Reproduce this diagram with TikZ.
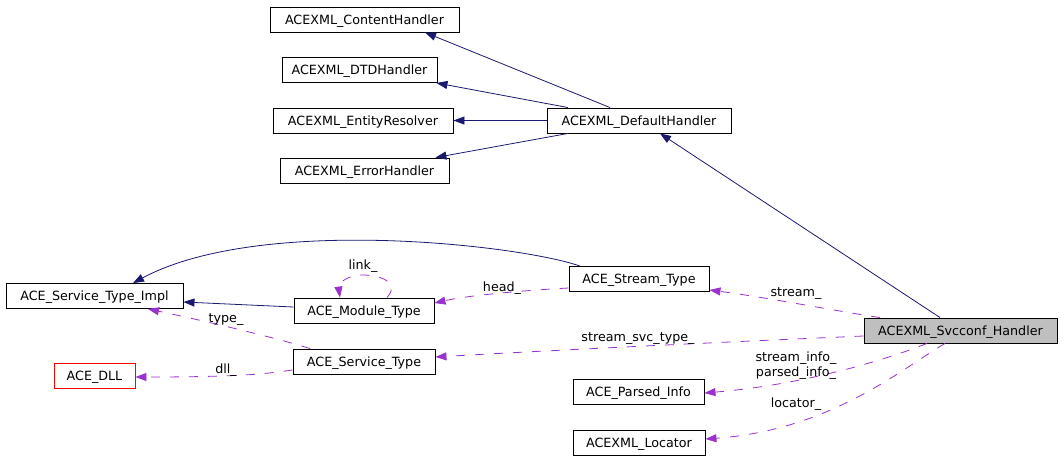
\documentclass[tikz,border=0pt]{standalone}
\usepackage{fontspec}
\setmainfont{DejaVu Sans}
\usepackage{xcolor}
\definecolor{navy}{RGB}{25,25,112}
\definecolor{orchid}{RGB}{154,50,205}
\definecolor{shade}{RGB}{191,191,191}
\usepackage{tikz}
\usetikzlibrary{positioning}
\usetikzlibrary{arrows.meta}
\tikzset{>={Triangle[length=11pt,width=8pt]}}
\tikzset{
  klass/.style    ={ font=\fontsize{12.7pt}{15pt}\selectfont, rectangle, draw=black, fill=white, line width=0.9pt,
                     inner sep=0pt, text height=9.3pt, text depth=0pt, minimum height=25pt },
  current/.style  ={ klass, fill=shade },
  missing/.style  ={ klass, draw=red },
  tag/.style      ={ font=\fontsize{12.7pt}{15pt}\selectfont, inner sep=0pt, anchor=base },
  inherit/.style  ={->, draw=navy, line width=0.8pt},
  member/.style   ={->, draw=orchid, line width=0.8pt, dash pattern=on 9pt off 10pt}
}

\begin{document}
\begin{tikzpicture}[x=1pt,y=-1pt]
\useasboundingbox (0,0) rectangle (1064,461);

\node[klass,  minimum width=189pt] (CH)  at (364.5, 19.5) {ACEXML\_ContentHandler};
\node[klass,  minimum width=155pt] (DTD) at (359.5, 70)   {ACEXML\_DTDHandler};
\node[klass,  minimum width=180pt] (ER)  at (363, 120.5)  {ACEXML\_EntityResolver};
\node[klass,  minimum width=169pt] (EH)  at (364.5, 170.5){ACEXML\_ErrorHandler};
\node[klass,  minimum width=184pt] (DH)  at (639, 120.5)  {ACEXML\_DefaultHandler};
\node[klass,  minimum width=177pt] (STI) at (94.5, 296)   {ACE\_Service\_Type\_Impl};
\node[klass,  minimum width=140pt] (MT)  at (364, 310.5)  {ACE\_Module\_Type};
\node[klass,  minimum width=142pt] (SvT) at (364, 361.5)  {ACE\_Service\_Type};
\node[missing,minimum width=81pt]  (DLL) at (94.5, 376)   {ACE\_DLL};
\node[klass,  minimum width=140pt] (ST)  at (639, 279)    {ACE\_Stream\_Type};
\node[current,minimum width=193pt] (SC)  at (960.5, 330.5){ACEXML\_Svcconf\_Handler};
\node[klass,  minimum width=131pt] (PI)  at (638.5, 392)  {ACE\_Parsed\_Info};
\node[klass,  minimum width=132pt] (LOC) at (639, 442.5)  {ACEXML\_Locator};

\draw[inherit] ([xshift=-29pt]DH.north) -- ([xshift=60.5pt]CH.south);
\draw[inherit] ([xshift=-71pt]DH.north) -- ([xshift=-1pt]DTD.south east);
\draw[inherit] (DH.west) -- (ER.east);
\draw[inherit] ([xshift=-71pt]DH.south) -- ([xshift=-14pt]EH.north east);
\draw[inherit] ([xshift=-20.5pt]SC.north) -- ([xshift=21pt]DH.south);
\draw[inherit] ([xshift=-59pt]ST.north) .. controls (520,245) and (260,215) .. ([xshift=38.5pt]STI.north);
\draw[inherit] ([yshift=3.5pt]MT.west) -- ([yshift=-6pt]STI.east);

\draw[member] ([xshift=23pt]MT.north) .. controls (400,283) and (382,275) .. (362,275)
              .. controls (347,275) and (338,284) .. ([xshift=-24pt]MT.north);
\draw[member] ([yshift=-9pt]ST.west) .. controls (530,290) and (470,295) .. ([yshift=7.5pt]MT.east);
\draw[member] ([xshift=-54pt]SvT.north) .. controls (270,336) and (200,320) .. ([xshift=53.5pt]STI.south);
\draw[member] ([yshift=-8.5pt]SvT.west) .. controls (270,373) and (250,377) .. ([yshift=-1pt]DLL.east);
\draw[member] ([xshift=-80.5pt]SC.north) .. controls (830,310) and (770,298) .. ([yshift=-11pt]ST.east);
\draw[member] ([yshift=-5.5pt]SC.west) .. controls (700,343) and (520,352) .. ([yshift=4.5pt]SvT.east);
\draw[member] ([xshift=-33.5pt]SC.south) .. controls (880,362) and (800,385) .. ([yshift=-1pt]PI.east);
\draw[member] ([xshift=-15.5pt]SC.south) .. controls (900,370) and (830,430) .. ([yshift=3.5pt]LOC.east);

\node[tag] (link)  at (363, 269)   {link\_};
\node[tag] (head)  at (502, 291)   {head\_};
\node[tag] (type)  at (226, 322)   {type\_};
\node[tag] (dll)   at (226, 373)   {dll\_};
\node[tag] (strm)  at (796, 296)   {stream\_};
\node[tag] (svct)  at (638, 341)   {stream\_svc\_type\_};
\node[tag] (sinfo) at (796, 361)   {stream\_info\_};
\node[tag] (pinfo) at (796, 376)   {parsed\_info\_};
\node[tag] (loc)   at (796, 407.5) {locator\_};

\end{tikzpicture}
\end{document}
